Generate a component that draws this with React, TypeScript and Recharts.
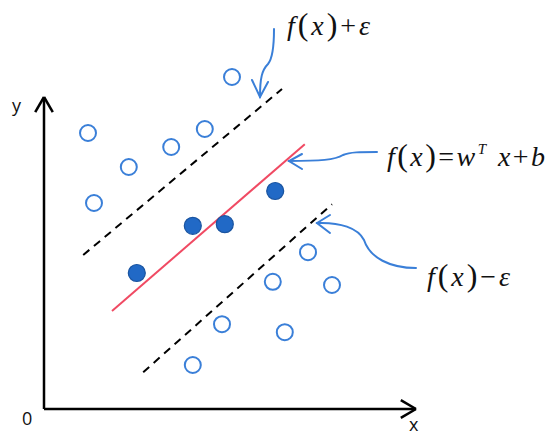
import { ScatterChart, Scatter, XAxis, YAxis, ReferenceLine, Customized } from "recharts"

// points outside the ε-tube (hollow)
const outsideX = [4.7, 1.1, 2.12, 3.18, 4.02, 1.25, 6.6, 5.72, 7.2, 4.45, 6.02, 3.72]
const outsideY = [8.3, 6.9, 6.05, 6.55, 7.0, 5.15, 3.92, 3.18, 3.1, 2.12, 1.92, 1.1]

// points on / near the regression line (filled)
const insideX = [2.32, 3.72, 4.52, 5.78]
const insideY = [3.4, 4.58, 4.62, 5.45]

// f(x), f(x)+ε, f(x)-ε  as [x1, y1, x2, y2]
const fLine = [1.7, 2.45, 6.52, 6.62]
const upperLine = [0.98, 3.85, 5.95, 8.0]
const lowerLine = [2.48, 0.92, 7.2, 5.12]

const X_MAX = 9.3
const Y_MAX = 7.8

const outsideData = outsideX.map((x, i) => ({ x, y: outsideY[i] }))
const insideData = insideX.map((x, i) => ({ x, y: insideY[i] }))

const seg = (l: number[]) => [
  { x: l[0], y: l[1] },
  { x: l[2], y: l[3] },
]

const BLUE = "#3a7fd8"
const SERIF = "'Liberation Serif', 'DejaVu Serif', serif"
const SANS = "'Open Sans', 'Noto Sans', sans-serif"

const HollowDot = (props: any) => (
  <circle cx={props.cx} cy={props.cy} r={8} fill="#fff" stroke={BLUE} strokeWidth={2} />
)

const FilledDot = (props: any) => (
  <circle cx={props.cx} cy={props.cy} r={8.5} fill="#2169c6" stroke="#1a54a0" strokeWidth={1.2} />
)

const Annotations = () => (
  <g>
    <text x={12} y={112} fontFamily={SANS} fontSize={18} fill="#111">y</text>
    <text x={409} y={431} fontFamily={SANS} fontSize={18} fill="#111">x</text>
    <text x={22} y={425} fontFamily={SANS} fontSize={18} fill="#111">0</text>

    <g fill="none" stroke={BLUE} strokeWidth={2} strokeLinecap="round">
      <path d="M274,29 C274,45 273,58 268,64 C262,70 260,78 260,97" />
      <path d="M252,80 L260,97 L268,82" />
      <path d="M377,152 C360,152 350,152 343,155 C335,160 320,161 289,161" />
      <path d="M302,154 L289,161 L302,169" />
      <path d="M317,223 C340,222 358,228 364,240 C370,258 390,268 416,268" />
      <path d="M330,215 L317,223 L330,233" />
    </g>

    <text x={287} y={35} fontFamily={SERIF} fontSize={28} fill="#111" textLength={83} lengthAdjust="spacing">
      <tspan fontStyle="italic">f</tspan>
      <tspan fontSize={32}>(</tspan>
      <tspan fontStyle="italic">x</tspan>
      <tspan fontSize={32}>)</tspan>
      <tspan>+</tspan>
      <tspan fontStyle="italic">ε</tspan>
    </text>
    <text x={387} y={166} fontFamily={SERIF} fontSize={28} fill="#111" textLength={158} lengthAdjust="spacing">
      <tspan fontStyle="italic">f</tspan>
      <tspan fontSize={32}>(</tspan>
      <tspan fontStyle="italic">x</tspan>
      <tspan fontSize={32}>)</tspan>
      <tspan>=</tspan>
      <tspan fontStyle="italic">w</tspan>
      <tspan fontStyle="italic" fontSize={15} dy={-12}>T</tspan>
      <tspan fontStyle="italic" dy={12}> x</tspan>
      <tspan>+</tspan>
      <tspan fontStyle="italic">b</tspan>
    </text>
    <text x={427} y={286} fontFamily={SERIF} fontSize={28} fill="#111" textLength={83} lengthAdjust="spacing">
      <tspan fontStyle="italic">f</tspan>
      <tspan fontSize={32}>(</tspan>
      <tspan fontStyle="italic">x</tspan>
      <tspan fontSize={32}>)</tspan>
      <tspan>−</tspan>
      <tspan fontStyle="italic">ε</tspan>
    </text>
  </g>
)

export default function App() {
  return (
    <div style={{ width: 550, height: 438, background: "#fff" }}>
      <style>{"body{margin:0}"}</style>
      <ScatterChart width={550} height={438} margin={{ top: 9, right: 96, bottom: 29, left: 44 }}>
        <XAxis type="number" dataKey="x" domain={[0, 10.25]} hide />
        <YAxis type="number" dataKey="y" domain={[0, 10]} hide />

        {/* axes with arrow heads */}
        <ReferenceLine segment={[{ x: 0, y: 0 }, { x: 0, y: Y_MAX }]} stroke="#000" strokeWidth={2.5} ifOverflow="visible" />
        <ReferenceLine segment={[{ x: -0.22, y: Y_MAX - 0.38 }, { x: 0, y: Y_MAX }]} stroke="#000" strokeWidth={2.5} ifOverflow="visible" />
        <ReferenceLine segment={[{ x: 0.22, y: Y_MAX - 0.38 }, { x: 0, y: Y_MAX }]} stroke="#000" strokeWidth={2.5} ifOverflow="visible" />
        <ReferenceLine segment={[{ x: 0, y: 0 }, { x: X_MAX, y: 0 }]} stroke="#000" strokeWidth={2.5} ifOverflow="visible" />
        <ReferenceLine segment={[{ x: X_MAX - 0.38, y: 0.22 }, { x: X_MAX, y: 0 }]} stroke="#000" strokeWidth={2.5} ifOverflow="visible" />
        <ReferenceLine segment={[{ x: X_MAX - 0.38, y: -0.22 }, { x: X_MAX, y: 0 }]} stroke="#000" strokeWidth={2.5} ifOverflow="visible" />

        <ReferenceLine segment={seg(upperLine)} stroke="#000" strokeWidth={2} strokeDasharray="8 6" ifOverflow="visible" />
        <ReferenceLine segment={seg(lowerLine)} stroke="#000" strokeWidth={2} strokeDasharray="8 6" ifOverflow="visible" />
        <ReferenceLine segment={seg(fLine)} stroke="#f04a63" strokeWidth={2} ifOverflow="visible" />

        <Scatter data={outsideData} shape={HollowDot} isAnimationActive={false} />
        <Scatter data={insideData} shape={FilledDot} isAnimationActive={false} />

        <Customized component={<Annotations />} />
      </ScatterChart>
    </div>
  )
}
